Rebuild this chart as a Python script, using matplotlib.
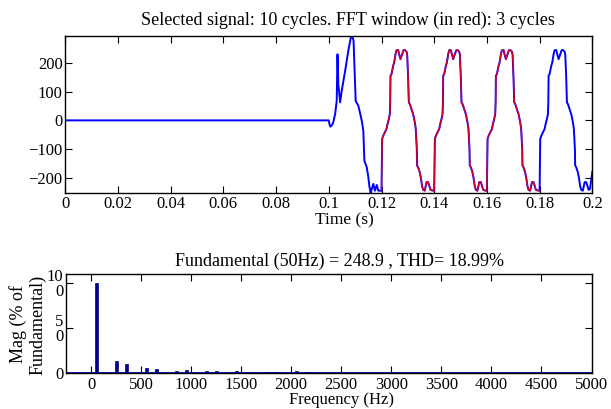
import matplotlib
matplotlib.use("Agg")
import matplotlib.pyplot as plt
import numpy as np

plt.rcParams['font.family'] = ['Liberation Serif', 'DejaVu Serif']
plt.rcParams['font.size'] = 12

# ---- time-domain signal (time in ms, value) ----
t_pre = [0, 100.0, 100.3, 100.6, 101.1, 101.6, 102.4, 103.0, 103.3, 103.6,
         104.3, 104.9, 105.6, 106.2, 107.4, 108.4, 108.9, 109.4, 109.9, 110.2,
         111.2, 111.8, 112.5, 113.1, 113.5, 114.4, 115.0, 115.4, 115.9, 116.3,
         116.9, 117.5, 118.2, 118.8, 119.5, 119.9]
v_pre = [0, 0, -15, -22, -18, -10, 22, 68, 231, 127,
         63, 103, 140, 173, 243, 292, 295, 278, 150, 68,
         51, 28, -1, -36, -141, -164, -199, -230, -255, -240,
         -222, -246, -226, -246, -246, -246]

t_c1 = [120.0, 120.15, 120.25, 120.63, 121.27, 121.9, 122.28, 122.78, 123.16, 123.3,
        123.42, 123.8, 124.43, 124.8, 125.31, 125.69, 126.33, 126.7, 127.21, 127.84,
        128.35, 128.86, 129.5, 129.74, 130.1, 130.37, 130.75, 131.4, 132.0, 132.65,
        133.0, 133.4, 133.5, 133.9, 134.5, 134.9, 135.4, 135.8, 136.4, 137.1,
        137.7, 138.6, 139.6]
t_c2 = [140.0, 140.15, 140.25, 140.63, 141.27, 141.9, 142.28, 142.78, 143.16, 143.3,
        143.42, 143.8, 144.43, 144.8, 145.31, 145.69, 146.33, 146.7, 147.21, 147.84,
        148.35, 148.86, 149.5, 149.74, 150.1, 150.37, 150.75, 151.4, 152.0, 152.65,
        153.0, 153.4, 153.5, 153.9, 154.5, 154.9, 155.4, 155.8, 156.4, 157.1,
        157.7, 158.6, 159.6]
t_c3 = [160.0, 160.15, 160.25, 160.63, 161.27, 161.9, 162.28, 162.78, 163.16, 163.3,
        163.42, 163.8, 164.43, 164.8, 165.31, 165.69, 166.33, 166.7, 167.21, 167.84,
        168.35, 168.86, 169.5, 169.74, 170.1, 170.37, 170.75, 171.4, 172.0, 172.65,
        173.0, 173.4, 173.5, 173.9, 174.5, 174.9, 175.4, 175.8, 176.4, 177.1,
        177.7, 178.6, 179.6]
v_cycle = [-246, -150, -65, -54, -42, -30, -13, 5, 22, 60,
           156, 162, 191, 202, 231, 245, 246, 231, 214, 231,
           245, 246, 240, 231, 150, 63, 57, 39, 22, -7,
           -30, -100, -158, -164, -181, -199, -230, -243, -246, -216,
           -216, -243, -246]

t_c4 = [180.0, 180.15, 180.25, 180.63, 181.27, 181.9, 182.28, 182.78, 183.16, 183.3,
        183.42, 183.8, 184.43, 184.8, 185.31, 185.69, 186.33, 186.7, 187.21, 187.84,
        188.35, 188.86, 189.5, 189.74, 190.1, 190.37, 190.75, 191.4, 192.0, 192.65,
        193.0, 193.4, 193.5, 193.9, 194.5, 194.9, 195.4, 195.8, 196.4, 197.1,
        197.7, 198.6, 199.1, 199.5, 200.0]
v_c4 = [-246, -150, -65, -54, -42, -30, -13, 5, 22, 60,
        156, 162, 191, 202, 231, 245, 246, 231, 214, 231,
        245, 246, 240, 231, 150, 63, 57, 39, 22, -7,
        -30, -100, -158, -164, -181, -199, -230, -243, -246, -216,
        -216, -243, -240, -215, -180]

# ---- spectrum ----
harm_freq = [50, 250, 350, 550, 650, 850, 950, 1150, 1250, 1450, 1550, 1750, 1850, 2050, 2150]
harm_mag = [100, 13.5, 9.8, 5.4, 4.8, 2.5, 2.8, 1.7, 1.7, 1.7, 1.3, 1.3, 1.3, 1.7, 1.3]

top_title = "Selected signal: 10 cycles. FFT window (in red): 3 cycles"
bot_title = "Fundamental (50Hz) = 248.9 , THD= 18.99%"
x_ticks_top = [0, 0.02, 0.04, 0.06, 0.08, 0.1, 0.12, 0.14, 0.16, 0.18, 0.2]
y_ticks_top = [-200, -100, 0, 100, 200]
x_ticks_bot = [0, 500, 1000, 1500, 2000, 2500, 3000, 3500, 4000, 4500, 5000]
y_ticks_bot = [0, 50, 100]
y_ticklabels_bot = ["0", "5\n0", "10\n0"]

t_all = np.array(t_pre + t_c1 + t_c2 + t_c3 + t_c4) / 1000.0
v_all = np.array(v_pre + v_cycle + v_cycle + v_cycle + v_c4)
t_red = np.array(t_c1 + t_c2 + t_c3 + [t_c4[0]]) / 1000.0
v_red = np.array(v_cycle + v_cycle + v_cycle + [v_c4[0]])

fig = plt.figure(figsize=(6.11, 4.09), dpi=100)
W, H = 611, 409
ax1 = fig.add_axes([65.3 / W, 1 - 193 / H, (592.3 - 65.3) / W, (193 - 36) / H])
ax2 = fig.add_axes([66.0 / W, 1 - 373 / H, (591.5 - 66.0) / W, (373 - 274) / H])

blue = '#0000ff'
navy = '#00008c'

ax1.plot(t_all, v_all, color=blue, lw=1.4)
ax1.plot(t_red, v_red, color='#ff0000', lw=1.0, alpha=0.85)
ax1.set_xlim(0, 0.2)
ax1.set_ylim(-254, 295)
ax1.set_xticks(x_ticks_top)
ax1.set_xticklabels(['%g' % v for v in x_ticks_top])
ax1.set_yticks(y_ticks_top)
ax1.set_title(top_title, x=0.5355, pad=8, fontsize=13)
ax1.set_xlabel("Time (s)", fontsize=12.5)
ax1.xaxis.set_label_coords(0.529, -0.172)
ax1.xaxis.label.set_va('center')

ax2.bar(harm_freq, harm_mag, width=30, color=navy, edgecolor=navy, lw=0.5)
ax2.axhline(0, color=navy, lw=2.0, zorder=3)
ax2.set_xlim(-250, 5000)
ax2.set_ylim(0, 110)
ax2.set_xticks(x_ticks_bot)
ax2.set_yticks(y_ticks_bot)
ax2.set_yticklabels(y_ticklabels_bot)
for lab in ax2.get_yticklabels():
    lab.set_linespacing(0.95)
ax2.set_title(bot_title, x=0.52, pad=6, fontsize=13)
ax2.set_xlabel("Frequency (Hz)", fontsize=12)
ax2.xaxis.set_label_coords(0.525, -0.275)
ax2.xaxis.label.set_va('center')
ax2.set_ylabel("Mag (% of\nFundamental)", fontsize=13, multialignment='center',
               linespacing=1.15)
ax2.yaxis.set_label_coords(-0.038, 0.49)

for ax in (ax1, ax2):
    ax.tick_params(direction='in', top=True, right=True, length=5, width=0.8,
                   labelsize=12, pad=3)
    ax.tick_params(axis='y', pad=2)
    for s in ax.spines.values():
        s.set_linewidth(1.0)
ax1.tick_params(axis='x', pad=2)

fig.savefig("out.png", dpi=100)
